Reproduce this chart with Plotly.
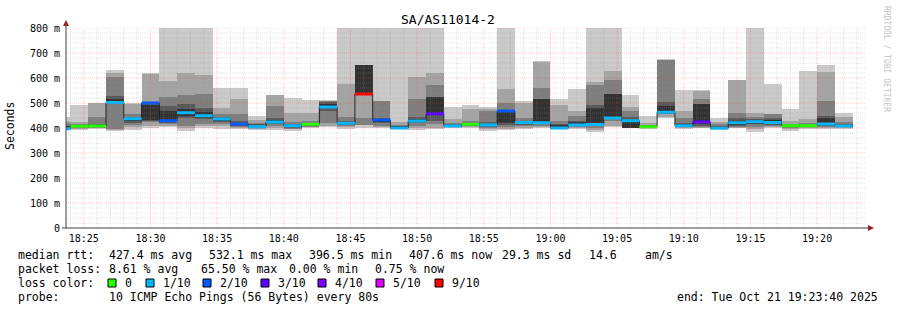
import plotly.graph_objects as go
from datetime import datetime, timedelta

# ---------------- data ----------------
T_START = datetime(2025, 10, 21, 18, 24, 0)   # start of bar index 0
STEP_S = 80
FIRST_INDEX = -1                               # a partial bar precedes 18:24:00

loss = [1, 0, 0, 1, 1, 2, 2, 1, 1, 1, 2, 1, 1, 1, 0, 1, 1, 9, 2, 1, 1, 3, 1, 0,
        1, 2, 1, 1, 1, 1, 1, 1, 1, 0, 1, 1, 3, 1, 1, 1, 1, 0, 0, 1, 1]
median = [397, 407, 408, 502, 437, 500, 429, 461, 449, 436, 416, 405, 424, 409, 415,
          484, 419, 536, 432, 400, 428, 457, 408, 415, 412, 468, 422, 421, 400, 412,
          414, 440, 429, 405, 463, 409, 424, 399, 421, 425, 422, 409, 409, 416, 408]
# smoke bands, outermost (1) to innermost (5)
b1_lo = [395, 393, 396, 390, 392, 400, 405, 388, 400, 397, 398, 394, 392, 390, 400,
         405, 398, 400, 400, 395, 392, 395, 400, 402, 390, 392, 398, 402, 396, 398,
         385, 405, 400, 398, 440, 398, 400, 396, 400, 385, 400, 390, 398, 395, 396]
b1_hi = [444, 492, 502, 632, 500, 620, 800, 800, 800, 560, 560, 448, 534, 520, 512,
         512, 800, 800, 800, 800, 800, 800, 484, 492, 484, 800, 508, 668, 516, 556,
         800, 800, 532, 448, 675, 552, 552, 441, 594, 800, 576, 476, 628, 652, 461]
b2_lo = [398, 398, 400, 393, 405, 410, 410, 400, 410, 410, 402, 397, 400, 395, 403,
         410, 404, 412, 405, 397, 400, 400, 403, 404, 395, 398, 402, 405, 398, 402,
         392, 410, 402, 400, 445, 402, 402, 397, 402, 395, 405, 398, 402, 400, 400]
b2_hi = [430, 425, 500, 622, 495, 618, 590, 621, 612, 480, 517, 432, 532, 462, 460,
         510, 575, 652, 510, 425, 605, 621, 438, 476, 475, 556, 500, 665, 492, 469,
         585, 629, 484, 420, 673, 470, 550, 425, 592, 460, 458, 430, 436, 625, 444]
b3_lo = [400, 401, 402, 395, 414, 425, 415, 410, 418, 416, 405, 399, 408, 398, 406,
         420, 408, 412, 408, 398, 408, 418, 405, 408, 400, 405, 408, 410, 402, 405,
         400, 430, 405, 401, 455, 404, 405, 398, 406, 405, 408, 402, 404, 405, 403]
b3_hi = [420, 415, 445, 605, 455, 505, 525, 532, 536, 455, 457, 422, 488, 425, 430,
         508, 445, 439, 508, 412, 516, 572, 420, 430, 470, 500, 440, 560, 428, 448,
         572, 592, 470, 412, 672, 440, 516, 415, 460, 445, 455, 418, 420, 508, 425]
b4_lo = [401, 403, 404, 495, 422, 428, 420, 440, 435, 425, 410, 401, 415, 402, 410,
         470, 412, 536, 420, 399, 420, 430, 406, 410, 405, 412, 412, 415, 404, 408,
         410, 438, 404, 402, 458, 405, 410, 399, 410, 415, 412, 404, 405, 410, 404]
b4_hi = [410, 411, 418, 530, 445, 503, 490, 498, 480, 445, 430, 415, 440, 418, 422,
         505, 430, 652, 440, 408, 445, 525, 415, 422, 425, 472, 430, 516, 415, 430,
         492, 536, 445, 408, 505, 420, 496, 408, 440, 435, 440, 413, 414, 448, 415]
b5_lo = [402, 405, 406, 498, 430, 434, 425, 450, 442, 430, 412, 403, 420, 405, 412,
         480, 415, 536, 425, 400, 424, 458, 407, 412, 408, 420, 415, 418, 405, 410,
         412, 440, 402, 403, 460, 406, 415, 400, 414, 418, 416, 406, 406, 414, 405]
b5_hi = [405, 409, 412, 515, 440, 492, 470, 475, 465, 440, 422, 410, 432, 412, 418,
         495, 425, 652, 438, 405, 438, 525, 412, 418, 418, 465, 426, 516, 410, 425,
         480, 536, 428, 406, 490, 415, 496, 404, 428, 430, 432, 410, 411, 440, 410]

loss_levels = [0, 1, 2, 3, 4, 5, 9]
loss_labels = ["0", "1/10", "2/10", "3/10", "4/10", "5/10", "9/10"]
loss_colors = ["#26ff00", "#00b8ff", "#0059ff", "#5e00ff", "#7e00ff", "#dd00ff", "#ff0000"]
smoke_colors = ["#cacaca", "#a4a4a4", "#7e7e7e", "#585858", "#323232"]

y_ticks = [0, 100, 200, 300, 400, 500, 600, 700, 800]
y_tick_text = ["0", "100 m", "200 m", "300 m", "400 m", "500 m", "600 m", "700 m", "800 m"]
x_tick_text = ["18:25", "18:30", "18:35", "18:40", "18:45", "18:50", "18:55",
               "19:00", "19:05", "19:10", "19:15", "19:20"]
x_range = [datetime(2025, 10, 21, 18, 23, 40), datetime(2025, 10, 21, 19, 23, 40)]

title = "SA/AS11014-2"
stats_rows = [
    [("median rtt:", 16), ("427.4 ms avg", 107), ("532.1 ms max", 207), ("396.5 ms min", 307),
     ("407.6 ms now", 407), ("29.3 ms sd", 500), ("14.6", 587), ("am/s", 643)],
    [("packet loss:", 16), ("8.61 % avg", 107), ("65.50 % max", 199), ("0.00 % min", 287),
     ("0.75 % now", 373)],
]
probe_text = "10 ICMP Echo Pings (56 Bytes) every 80s"
end_text = "end: Tue Oct 21 19:23:40 2025"

# ---------------- geometry helpers ----------------
W, H = 897, 310
L, R, T, B = 66, 866, 28, 228
FONT = "DejaVu Sans Mono"


def px(x):
    return (x - L) / (R - L)


def py(y):
    return (B - y) / (B - T)


n = len(median)
starts = [T_START + timedelta(seconds=STEP_S * (i + FIRST_INDEX)) for i in range(n)]
centers = [s + timedelta(seconds=STEP_S / 2) for s in starts]
ends = [s + timedelta(seconds=STEP_S) for s in starts]

fig = go.Figure()

bands = [(b1_lo, b1_hi), (b2_lo, b2_hi), (b3_lo, b3_hi), (b4_lo, b4_hi), (b5_lo, b5_hi)]
for (lo, hi), col in zip(bands, smoke_colors):
    fig.add_trace(go.Bar(
        x=centers, base=lo, y=[h - l for l, h in zip(lo, hi)],
        width=[STEP_S * 1000] * n, marker=dict(color=col, line=dict(width=0)),
        hoverinfo="skip", showlegend=False))

# black median step line
fig.add_trace(go.Scatter(
    x=starts + [ends[-1]], y=median + [median[-1]], mode="lines",
    line=dict(color="#202020", width=1, shape="hv"), hoverinfo="skip", showlegend=False))

# colored median bars by loss
for lv, col in zip(loss_levels, loss_colors):
    xs, ys = [], []
    for i in range(n):
        if loss[i] == lv:
            xs += [starts[i], ends[i], None]
            ys += [median[i], median[i], None]
    if xs:
        fig.add_trace(go.Scatter(x=xs, y=ys, mode="lines",
                                 line=dict(color=col, width=3),
                                 hoverinfo="skip", showlegend=False))

shapes = []
# grid on top (dotted)
minor_c = "rgba(150,150,150,0.28)"
major_c = "rgba(255,70,70,0.30)"
t = datetime(2025, 10, 21, 18, 24, 0)
while t <= x_range[1]:
    major = t.minute % 5 == 0
    shapes.append(dict(type="line", xref="x", yref="paper", x0=t, x1=t, y0=0, y1=1,
                       line=dict(color=major_c if major else minor_c, width=1, dash="1px,1px"),
                       layer="above"))
    t += timedelta(minutes=1)
for v in range(20, 801, 20):
    major = v % 100 == 0
    shapes.append(dict(type="line", xref="paper", yref="y", x0=0, x1=1, y0=v, y1=v,
                       line=dict(color=major_c if major else minor_c, width=1, dash="1px,1px"),
                       layer="above"))

# axes lines + arrows
axis_c = "#404040"
arrow_c = "#a02020"
shapes.append(dict(type="line", xref="paper", yref="paper", x0=px(66), x1=px(66),
                   y0=py(228), y1=py(24), line=dict(color=axis_c, width=1), layer="above"))
shapes.append(dict(type="line", xref="paper", yref="paper", x0=px(62), x1=px(869),
                   y0=py(228), y1=py(228), line=dict(color=axis_c, width=1), layer="above"))
shapes.append(dict(type="path", xref="paper", yref="paper",
                   path=f"M {px(63)} {py(26)} L {px(69)} {py(26)} L {px(66)} {py(20)} Z",
                   fillcolor=arrow_c, line=dict(width=0), layer="above"))
shapes.append(dict(type="path", xref="paper", yref="paper",
                   path=f"M {px(868)} {py(225)} L {px(868)} {py(231)} L {px(874)} {py(228)} Z",
                   fillcolor=arrow_c, line=dict(width=0), layer="above"))

annotations = []


def text(s, x, y, size=11.5, anchor="left", color="#000000", angle=0):
    annotations.append(dict(text=s, x=px(x), y=py(y), xref="paper", yref="paper",
                            xanchor=anchor, yanchor="middle", showarrow=False,
                            textangle=angle,
                            font=dict(family=FONT, size=size, color=color)))


text(title, 448, 19, size=13, anchor="center")
text("Seconds", 10, 126, size=11.5, anchor="center", angle=-90)
text("RRDTOOL / TOBI OETIKER", 887, 59, size=8, anchor="center", color="#c4c4c4", angle=90)

row_y = [255, 269, 283, 297]
for r, segs in enumerate(stats_rows):
    for s, x in segs:
        text(s, x, row_y[r])

text("loss color:", 16, row_y[2])
box_x = [108, 146, 203, 261, 318, 376, 435]
for bx, col, lab in zip(box_x, loss_colors, loss_labels):
    shapes.append(dict(type="rect", xref="paper", yref="paper",
                       x0=px(bx), x1=px(bx + 8), y0=py(row_y[2] - 4), y1=py(row_y[2] + 4),
                       fillcolor=col, line=dict(color="#000000", width=1)))
    text(lab, bx + 15, row_y[2])

text("probe:", 16, row_y[3])
text(probe_text, 107, row_y[3])
text(end_text, 880, row_y[3], anchor="right")

fig.update_layout(
    width=W, height=H,
    margin=dict(l=L, r=W - R, t=T, b=H - B, pad=0),
    paper_bgcolor="#ffffff", plot_bgcolor="#ffffff",
    barmode="overlay", bargap=0, showlegend=False,
    shapes=shapes, annotations=annotations,
    font=dict(family=FONT, color="#000000"),
    xaxis=dict(type="date", range=x_range,
               tickvals=[datetime.strptime("2025-10-21 " + s, "%Y-%m-%d %H:%M") for s in x_tick_text],
               ticktext=x_tick_text, showgrid=False, zeroline=False, showline=False,
               ticks="", ticklabelstandoff=3, tickfont=dict(family=FONT, size=10, color="#000000"),
               fixedrange=True),
    yaxis=dict(range=[0, 800], tickvals=y_ticks, ticktext=y_tick_text,
               showgrid=False, zeroline=False, showline=False, ticks="",
               ticklabelstandoff=5, tickfont=dict(family=FONT, size=10, color="#000000"),
               fixedrange=True),
)

fig.write_html("out.html")
